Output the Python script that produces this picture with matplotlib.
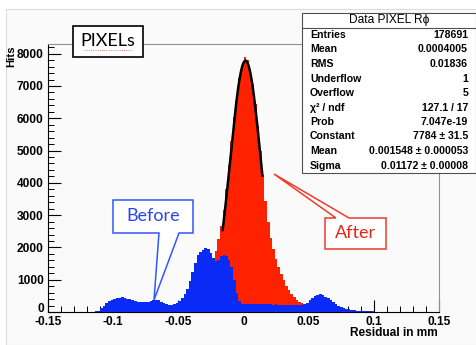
import numpy as np
import matplotlib
matplotlib.use("Agg")
import matplotlib.pyplot as plt
import matplotlib.transforms as mtransforms
from matplotlib.patches import Rectangle, Polygon
from matplotlib.lines import Line2D
from matplotlib.ticker import MultipleLocator

# ---------------- data ----------------
# 150 bins of 0.002 mm from -0.15 to 0.15
bin_lo, bin_hi, n_bins = -0.15, 0.15, 150

before_counts = [
    3, 4, 3, 5, 4, 5, 4, 6, 5, 6,
    6, 7, 6, 8, 7, 9, 10, 12, 18, 40,
    110, 200, 280, 340, 380, 400, 420, 440, 450, 430,
    410, 390, 370, 350, 320, 300, 300, 310, 320, 340,
    360, 370, 360, 320, 270, 240, 220, 220, 240, 270,
    330, 420, 560, 720, 950, 1250, 1520, 1750, 1870, 1930,
    1970, 1950, 1820, 1680, 1580, 1600, 1720, 1760, 1730, 1620,
    1400, 1000, 600, 350, 260, 245, 240, 250, 245, 240,
    250, 240, 245, 240, 235, 240, 230, 235, 230, 225,
    230, 225, 220, 215, 220, 210, 215, 220, 240, 290,
    360, 430, 490, 540, 560, 530, 480, 420, 360, 300,
    250, 200, 160, 120, 100, 80, 65, 55, 45, 40,
    35, 30, 25, 20, 18, 15, 14, 12, 10, 10,
    9, 8, 8, 7, 7, 6, 6, 5, 5, 5,
    5, 4, 4, 4, 4, 3, 3, 3, 3, 3,
]

after_counts = [
    0, 0, 0, 0, 0, 8, 0, 0, 0, 10,
    0, 0, 10, 0, 0, 12, 0, 0, 0, 0,
    5, 5, 6, 6, 7, 8, 8, 9, 10, 10,
    12, 13, 14, 15, 16, 18, 20, 22, 24, 26,
    28, 30, 32, 34, 36, 38, 40, 40, 45, 45,
    60, 90, 120, 160, 210, 280, 360, 460, 580, 720,
    900, 1100, 1350, 1600, 1900, 2250, 2650, 3150, 3800, 4550,
    5300, 6050, 6700, 7250, 7650, 7900, 7800, 7480, 7050, 6450,
    5750, 5000, 4250, 3450, 2800, 2300, 1950, 1650, 1400, 1180,
    980, 820, 680, 560, 460, 380, 320, 270, 230, 200,
    150, 100, 70, 50, 35, 25, 20, 15, 12, 10,
    8, 7, 6, 5, 5, 4, 4, 3, 3, 3,
    2, 2, 2, 2, 2, 2, 2, 2, 2, 2,
    2, 10, 2, 10, 2, 2, 2, 2, 2, 2,
    0, 0, 0, 0, 0, 0, 0, 0, 0, 0,
]

# gaussian fit shown in the stats box
fit_const, fit_mean, fit_sigma = 7784.0, 0.001548, 0.01172
fit_range = (-0.016, 0.0145)

x_ticks = [-0.15, -0.1, -0.05, 0, 0.05, 0.1, 0.15]
x_tick_labels = ["-0.15", "-0.1", "-0.05", "0", "0.05", "0.1", "0.15"]
y_ticks = [0, 1000, 2000, 3000, 4000, 5000, 6000, 7000, 8000]

stat_title = "Data PIXEL R\u03d5"
stat_labels = ["Entries", "Mean", "RMS", "Underflow", "Overflow",
               "\u03c7\u00b2 / ndf", "Prob", "Constant", "Mean", "Sigma"]
stat_values = ["178691", "0.0004005", "0.01836", "1", "5",
               "127.1 / 17", "7.047e-19", "7784 \u00b1 31.5",
               "0.001548 \u00b1 0.000053", "0.01172 \u00b1 0.00008"]

# ---------------- figure ----------------
W, H = 477, 345
fig = plt.figure(figsize=(W / 100, H / 100), dpi=100)
fig.patch.set_facecolor("white")

def fx(px):
    return px / W

def fy(py):
    return 1 - py / H

# light grey pad
fig.add_artist(Rectangle((fx(6), 0), 1 - fx(6), fy(9), transform=fig.transFigure,
                         facecolor="#fafafa", edgecolor="#dcdcdc", lw=0.8, zorder=0))

ax = fig.add_axes([fx(48), fy(312), fx(439) - fx(48), fy(44) - fy(312)])
ax.set_facecolor("#fafafa")

edges = np.linspace(bin_lo, bin_hi, n_bins + 1)
ax.stairs(after_counts, edges, fill=True, color="#ff2200", zorder=2)
ax.stairs(before_counts, edges, fill=True, color="#0a2af5", zorder=3)

xf = np.linspace(fit_range[0], fit_range[1], 200)
ax.plot(xf, fit_const * np.exp(-0.5 * ((xf - fit_mean) / fit_sigma) ** 2),
        color="black", lw=1.8, zorder=4)

ax.set_xlim(bin_lo, bin_hi)
ax.set_ylim(0, 8300)
ax.set_xticks(x_ticks)
ax.set_xticklabels(x_tick_labels)
ax.set_yticks(y_ticks)
ax.xaxis.set_minor_locator(MultipleLocator(0.01))
ax.yaxis.set_minor_locator(MultipleLocator(200))

lab_family = ["Liberation Sans", "DejaVu Sans"]
for t in ax.get_xticklabels() + ax.get_yticklabels():
    t.set_fontfamily(lab_family)
    t.set_fontweight("bold")
    t.set_fontsize(8.6)

ax.tick_params(which="major", direction="in", length=9, width=0.8, pad=3,
               top=False, right=False)
ax.tick_params(which="minor", direction="in", length=4.5, width=0.7,
               top=False, right=False)
for s in ("top", "right"):
    ax.spines[s].set_color("#909090")
for s in ("left", "bottom"):
    ax.spines[s].set_color("black")

# nudge the y "0" label up a bit so it does not sit on "-0.15"
fig.canvas.draw()
zero_lab = ax.get_yticklabels()[0]
zero_lab.set_transform(zero_lab.get_transform() +
                       mtransforms.ScaledTranslation(0, 3 / 72, fig.dpi_scale_trans))

fig.text(fx(11), fy(45), "Hits", rotation=90, ha="center", va="top",
         family=lab_family, weight="bold", size=8.2)
fig.text(fx(438), fy(333), "Residual in mm", ha="right", va="center",
         family=lab_family, weight="bold", size=8.6)

# stats box
fig.add_artist(Rectangle((fx(302), fy(173)), fx(476) - fx(302), fy(13) - fy(173),
                         transform=fig.transFigure, facecolor="white",
                         edgecolor="#505050", lw=0.8, zorder=5))
fig.add_artist(Line2D([fx(302), fx(476)], [fy(28), fy(28)], transform=fig.transFigure,
                      color="#505050", lw=0.8, zorder=6))
stat_font = dict(family=lab_family, weight="bold", size=7.6, zorder=7)
fig.text(fx(389), fy(20.5), stat_title, ha="center", va="center",
         family=lab_family, size=8.6, zorder=7)
for i, (lab, val) in enumerate(zip(stat_labels, stat_values)):
    yy = fy(35 + i * 14.5)
    fig.text(fx(310), yy, lab, ha="left", va="center", **stat_font)
    fig.text(fx(468), yy, val, ha="right", va="center", **stat_font)

# PIXELs label
fig.add_artist(Rectangle((fx(73), fy(57)), fx(143) - fx(73), fy(26) - fy(57),
                         transform=fig.transFigure, facecolor="white",
                         edgecolor="black", lw=1.2, zorder=5))
fig.text(fx(108), fy(41), "PIXELs", ha="center", va="center",
         family=["Lato", "DejaVu Sans"], size=13, zorder=6)
fig.add_artist(Line2D([fx(84), fx(132)], [fy(49.5), fy(49.5)], transform=fig.transFigure,
                      color="#ff4040", lw=0.6, ls=":", zorder=7))

# callouts
before_pts = [(113, 200), (193, 200), (193, 233), (179, 233), (154, 300), (159, 233), (113, 233)]
after_pts = [(325, 218), (336, 218), (274, 174), (349, 218), (386, 218), (386, 249), (325, 249)]
fig.add_artist(Polygon([(fx(a), fy(b)) for a, b in before_pts], closed=True,
                       transform=fig.transFigure, facecolor="white",
                       edgecolor="#3355ff", lw=1.1, zorder=5))
fig.add_artist(Polygon([(fx(a), fy(b)) for a, b in after_pts], closed=True,
                       transform=fig.transFigure, facecolor="white",
                       edgecolor="#f03a2a", lw=1.1, zorder=5))
fig.text(fx(153), fy(216), "Before", ha="center", va="center", color="#2546f0",
         family=["Lato", "DejaVu Sans"], size=13, zorder=6)
fig.text(fx(355.5), fy(233.5), "After", ha="center", va="center", color="#e8231a",
         family=["Lato", "DejaVu Sans"], size=13, zorder=6)

fig.savefig("out.png", dpi=100)
